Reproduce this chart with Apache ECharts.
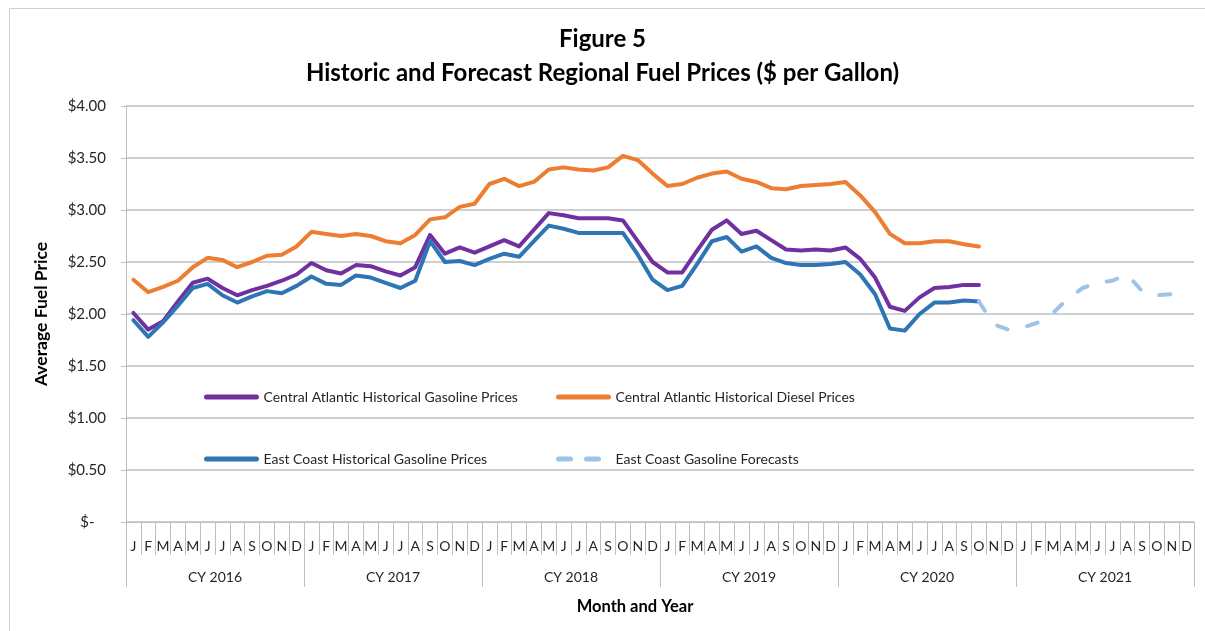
<!DOCTYPE html>
<html>
<head>
<meta charset="utf-8">
<script src="https://cdn.jsdelivr.net/npm/echarts@6/dist/echarts.min.js"></script>
<style>
html,body{margin:0;padding:0;background:#fff;}
#chart{width:1205px;height:631px;}
</style>
</head>
<body>
<div id="chart"></div>
<script>
var monthLetters = ['J','F','M','A','M','J','J','A','S','O','N','D'];
var years = ['CY 2016','CY 2017','CY 2018','CY 2019','CY 2020','CY 2021'];
var yTicks = [0, 0.5, 1, 1.5, 2, 2.5, 3, 3.5, 4];

var caGasoline = [
  2.01,1.85,1.93,2.12,2.30,2.34,2.25,2.18,2.23,2.27,2.32,2.38,
  2.49,2.42,2.39,2.47,2.46,2.41,2.37,2.45,2.76,2.58,2.64,2.59,
  2.65,2.71,2.65,2.81,2.97,2.95,2.92,2.92,2.92,2.90,2.70,2.50,
  2.40,2.40,2.61,2.81,2.90,2.77,2.80,2.71,2.62,2.61,2.62,2.61,
  2.64,2.53,2.35,2.07,2.03,2.16,2.25,2.26,2.28,2.28,
  null,null,null,null,null,null,null,null,null,null,null,null,null,null
];
var caDiesel = [
  2.33,2.21,2.26,2.32,2.45,2.54,2.52,2.45,2.50,2.56,2.57,2.65,
  2.79,2.77,2.75,2.77,2.75,2.70,2.68,2.76,2.91,2.93,3.03,3.06,
  3.25,3.30,3.23,3.27,3.39,3.41,3.39,3.38,3.41,3.52,3.48,3.35,
  3.23,3.25,3.31,3.35,3.37,3.30,3.27,3.21,3.20,3.23,3.24,3.25,
  3.27,3.14,2.98,2.77,2.68,2.68,2.70,2.70,2.67,2.65,
  null,null,null,null,null,null,null,null,null,null,null,null,null,null
];
var ecGasoline = [
  1.94,1.78,1.92,2.08,2.25,2.29,2.18,2.11,2.17,2.22,2.20,2.27,
  2.36,2.29,2.28,2.37,2.35,2.30,2.25,2.32,2.70,2.50,2.51,2.47,
  2.53,2.58,2.55,2.70,2.85,2.82,2.78,2.78,2.78,2.78,2.57,2.33,
  2.23,2.27,2.48,2.70,2.74,2.60,2.65,2.54,2.49,2.47,2.47,2.48,
  2.50,2.38,2.19,1.86,1.84,2.00,2.11,2.11,2.13,2.12,
  null,null,null,null,null,null,null,null,null,null,null,null,null,null
];
var ecForecast = [
  null,null,null,null,null,null,null,null,null,null,null,null,
  null,null,null,null,null,null,null,null,null,null,null,null,
  null,null,null,null,null,null,null,null,null,null,null,null,
  null,null,null,null,null,null,null,null,null,null,null,null,
  null,null,null,null,null,null,null,null,null,
  2.12,1.90,1.85,1.87,1.92,2.01,2.15,2.25,2.30,2.32,2.38,2.22,2.18,2.19,2.21
];

var seriesNames = [
  'Central Atlantic Historical Gasoline Prices',
  'Central Atlantic Historical Diesel Prices',
  'East Coast Historical Gasoline Prices',
  'East Coast Gasoline Forecasts'
];

var categories = [];
years.forEach(function (y) { monthLetters.forEach(function (m) { categories.push(m); }); });

var FONT = 'Lato, "Open Sans", sans-serif';
var GRID = '#bfbfbf';
var TXT = '#262626';

function lineSeries(name, data, color, extra) {
  var s = {
    name: name, type: 'line', data: data, symbol: 'none', showSymbol: false, connectNulls: false,
    xAxisIndex: 0, yAxisIndex: 0,
    lineStyle: { color: color, width: 4, cap: 'round', join: 'round' },
    itemStyle: { color: color },
    emphasis: { disabled: true }, animation: false
  };
  if (extra) { for (var k in extra) s.lineStyle[k] = extra[k]; }
  return s;
}

function legendAt(name, left, top, dashed) {
  var ls = { width: 5, cap: 'round' };
  if (dashed) ls.type = [12, 16];
  return {
    data: [name], left: left, top: top, padding: 0,
    itemWidth: 50, itemHeight: 6, itemGap: 0,
    itemStyle: { opacity: 0 },
    lineStyle: ls,
    textStyle: { fontFamily: FONT, fontSize: 14, color: TXT, padding: [0, 0, 0, 2] },
    selectedMode: false
  };
}

var chart = echarts.init(document.getElementById('chart'), null, { renderer: 'canvas' });
chart.setOption({
  animation: false,
  backgroundColor: '#fff',
  textStyle: { fontFamily: FONT },
  title: {
    text: 'Figure 5\nHistoric and Forecast Regional Fuel Prices ($ per Gallon)',
    left: 'center', top: 17,
    textStyle: { fontFamily: FONT, fontSize: 24, fontWeight: 'bold', color: '#000', lineHeight: 34 }
  },
  graphic: [{
    type: 'rect', left: 7, top: 6, silent: true,
    shape: { width: 1205, height: 640 },
    style: { fill: 'none', stroke: '#d0d0d0', lineWidth: 1 }
  }, {
    type: 'text', x: 635, y: 607, silent: true,
    style: {
      text: 'Month and Year', fill: '#000', align: 'center', verticalAlign: 'middle',
      font: 'bold 16.5px ' + FONT
    }
  }],
  legend: [
    legendAt(seriesNames[0], 204, 390),
    legendAt(seriesNames[1], 556, 390),
    legendAt(seriesNames[2], 204, 452),
    legendAt(seriesNames[3], 556, 452, true)
  ],
  grid: { left: 126, right: 11, top: 106, bottom: 109, containLabel: false },
  xAxis: [{
    type: 'category', data: categories, position: 'bottom', boundaryGap: true,
    axisLine: { show: true, lineStyle: { color: GRID, width: 1 } },
    axisTick: { show: true, interval: 0, length: 33, lineStyle: { color: GRID } },
    axisLabel: { interval: 0, margin: 17, fontFamily: FONT, fontSize: 14, color: TXT },
    splitLine: { show: false }
  }, {
    type: 'category', data: years, position: 'bottom', offset: 0, boundaryGap: true,
    axisLine: { show: false },
    axisTick: { show: true, interval: 0, length: 65, lineStyle: { color: GRID } },
    axisLabel: { interval: 0, margin: 48, fontFamily: FONT, fontSize: 14, color: TXT }
  }],
  yAxis: {
    type: 'value', min: yTicks[0], max: yTicks[yTicks.length - 1], interval: yTicks[1] - yTicks[0],
    axisLine: { show: true, lineStyle: { color: GRID } },
    axisTick: { show: true, length: 5, lineStyle: { color: GRID } },
    splitLine: { show: true, lineStyle: { color: GRID, width: 1.5 } },
    axisLabel: {
      margin: 20, fontFamily: FONT, fontSize: 15, color: TXT,
      formatter: function (v) { return v === 0 ? '$-   ' : '$' + v.toFixed(2); }
    },
    name: 'Average Fuel Price', nameLocation: 'middle', nameGap: 76, nameRotate: 90,
    nameTextStyle: { fontFamily: FONT, fontSize: 17.5, fontWeight: 'bold', color: '#000' }
  },
  series: [
    lineSeries(seriesNames[0], caGasoline, '#7030A0'),
    lineSeries(seriesNames[1], caDiesel, '#ED7D31'),
    lineSeries(seriesNames[2], ecGasoline, '#2E75B6'),
    lineSeries(seriesNames[3], ecForecast, '#9DC3E6', { type: [11, 20] })
  ]
});
</script>
</body>
</html>
